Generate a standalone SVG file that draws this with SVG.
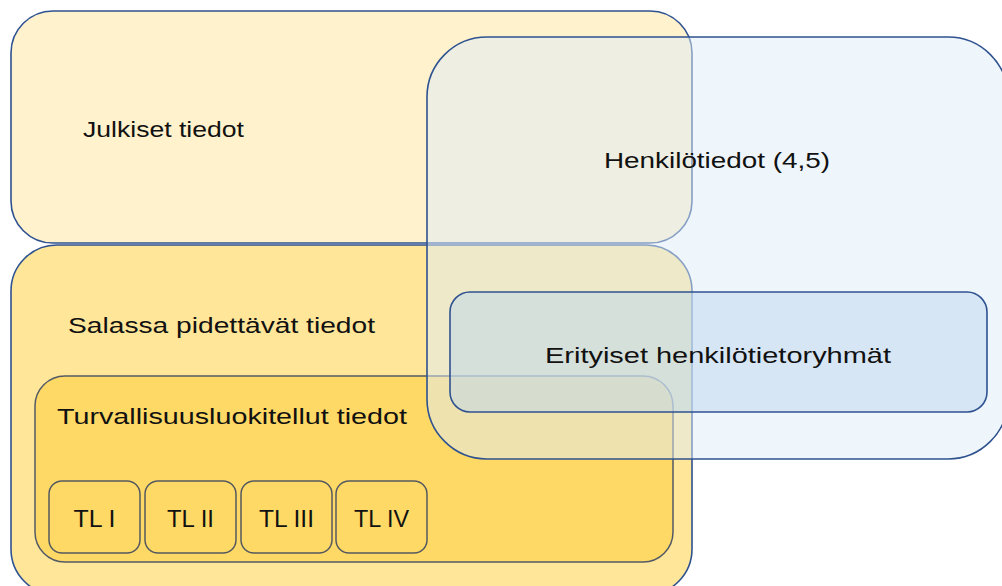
<svg xmlns="http://www.w3.org/2000/svg" width="1002" height="586" viewBox="0 0 1002 586">
<style>
.outer{stroke:#2F5290;stroke-width:1.6}
.gray{stroke:#525A66;stroke-width:1.5}
.tl{fill:#FFD966;stroke:#555A60;stroke-width:1.5}
text{font-family:"Liberation Sans",Arial,sans-serif;font-size:22px;fill:#111}
.c{text-anchor:middle;font-size:23px}
</style>
<rect width="1002" height="586" fill="#FFFFFF"/>
<g id="julkiset">
<rect class="outer" x="11" y="11" width="681" height="232" rx="42" ry="42" fill="#FFF2CC"/>
</g>
<g id="salassa">
<rect class="outer" x="11" y="245" width="681" height="350" rx="46" ry="46" fill="#FFE699"/>
</g>
<g id="turvallisuus">
<rect class="gray" x="35" y="376" width="638" height="186" rx="30" ry="30" fill="#FFD966"/>
</g>
<g id="tl1"><rect class="tl" x="49" y="481" width="91" height="72" rx="13" ry="13"/><text class="c" x="94.5" y="527" textLength="42" lengthAdjust="spacingAndGlyphs">TL I</text></g>
<g id="tl2"><rect class="tl" x="145" y="481" width="91" height="72" rx="13" ry="13"/><text class="c" x="190.5" y="527" textLength="47" lengthAdjust="spacingAndGlyphs">TL II</text></g>
<g id="tl3"><rect class="tl" x="241" y="481" width="91" height="72" rx="13" ry="13"/><text class="c" x="286.5" y="527" textLength="55" lengthAdjust="spacingAndGlyphs">TL III</text></g>
<g id="tl4"><rect class="tl" x="336" y="481" width="91" height="72" rx="13" ry="13"/><text class="c" x="381.5" y="527" textLength="55" lengthAdjust="spacingAndGlyphs">TL IV</text></g>
<g id="henkilotiedot">
<rect class="outer" x="427" y="37" width="581" height="422" rx="60" ry="60" fill="#DEEBF7" fill-opacity="0.5"/>
</g>
<g id="erityiset">
<rect class="outer" x="450" y="292" width="537" height="120" rx="20" ry="20" fill="#BDD7EE" fill-opacity="0.5"/>
</g>
<g id="labels">
<text x="83" y="137" textLength="161" lengthAdjust="spacingAndGlyphs">Julkiset tiedot</text>
<text x="604" y="168" textLength="226" lengthAdjust="spacingAndGlyphs">Henkilötiedot (4,5)</text>
<text x="68" y="333" textLength="307" lengthAdjust="spacingAndGlyphs">Salassa pidettävät tiedot</text>
<text x="545" y="363" textLength="346" lengthAdjust="spacingAndGlyphs">Erityiset henkilötietoryhmät</text>
<text x="57" y="424" textLength="350" lengthAdjust="spacingAndGlyphs">Turvallisuusluokitellut tiedot</text>
</g>
<g id="connectors"></g>
</svg>
